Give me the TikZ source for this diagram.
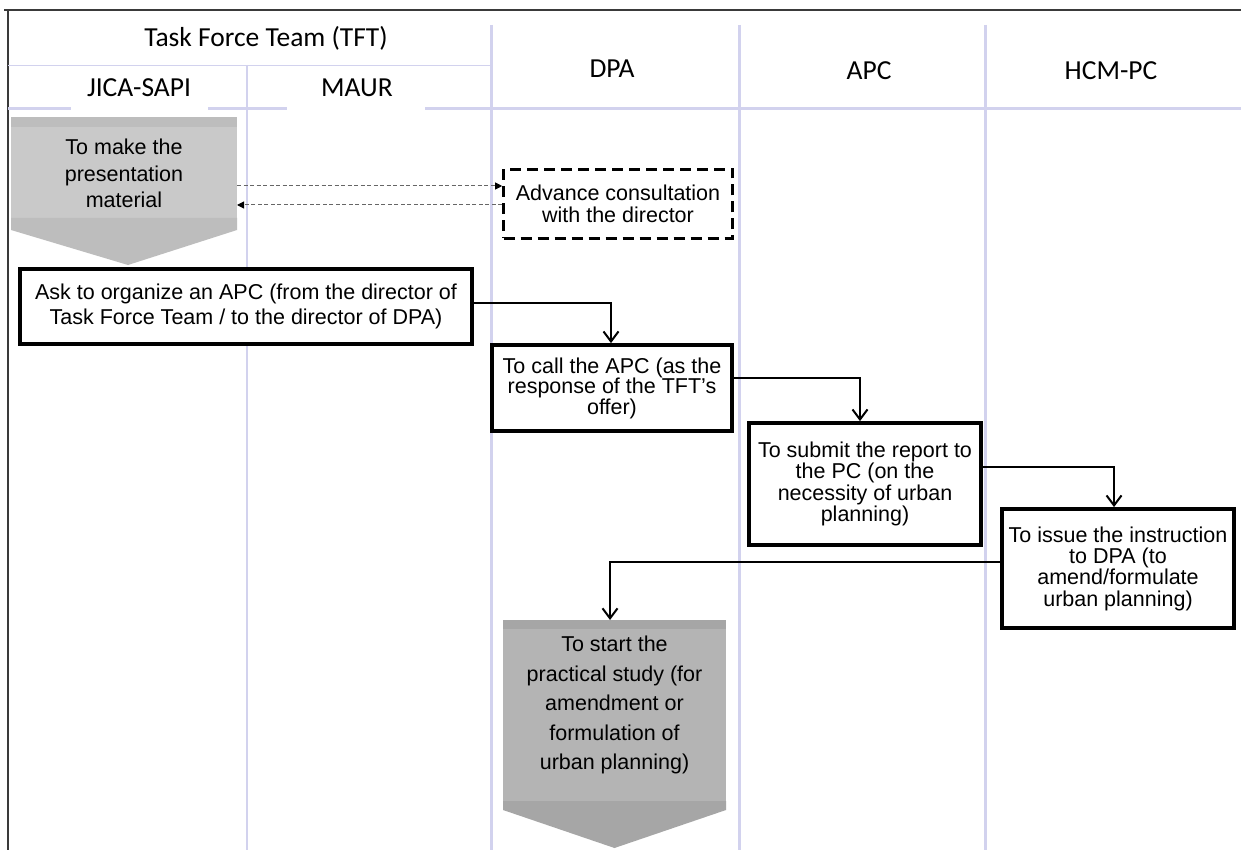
\documentclass[tikz,border=0pt]{standalone}
\usepackage{fontspec}
\setmainfont{Liberation Sans}
\newfontfamily\hdrfont{Carlito}
\usetikzlibrary{arrows.meta,calc}
\definecolor{lav}{HTML}{D2D2EE}
\definecolor{gA}{HTML}{C9C9C9}
\definecolor{gAb}{HTML}{BDBDBD}
\definecolor{gB}{HTML}{B4B4B4}
\definecolor{gBb}{HTML}{A6A6A6}
\definecolor{framecol}{HTML}{3A3A3A}
\begin{document}
\begin{tikzpicture}[x=1pt,y=-1pt,
  hdr/.style={font=\hdrfont\fontsize{27.5}{30}\selectfont, inner sep=0, anchor=base},
  lanethick/.style={draw=lav, line width=3pt},
  lanethin/.style={draw=lav, line width=1.2pt},
  procbox/.style={draw=black, line width=3.8pt, fill=white, align=center, inner sep=0,
    font=\fontsize{21.5}{#1}\selectfont},
  dashbox/.style={draw=black, line width=2.6pt, dash pattern=on 11pt off 6pt, fill=white,
    align=center, inner sep=0, font=\fontsize{21.5}{22}\selectfont},
  shapebox/.style={inner sep=0, outer sep=0},
  gtext/.style={align=center, inner sep=0, font=\fontsize{21.5}{#1}\selectfont},
  flow/.style={draw=black, line width=2pt, -{Straight Barb[length=10pt,width=15pt]}},
  dflow/.style={draw=black!60, line width=1pt, dash pattern=on 4pt off 2.5pt,
    -{Triangle[length=7pt,width=7pt,fill=black,color=black]}}
]
\useasboundingbox (0,0) rectangle (1241,850);
\fill[white] (0,0) rectangle (1241,850);

% ---- frame and lanes ----
\draw[framecol, line width=1.6pt] (4,10) -- (1241,10);
\draw[framecol, line width=2.4pt] (8,10) -- (8,850);
\draw[lanethin, line width=1.6pt] (8,65.5) -- (491,65.5);
\draw[lanethin] (247,65) -- (247,850);
\draw[lanethick] (491,25) -- (491,850);
\draw[lanethick] (739,25) -- (739,850);
\draw[lanethick] (985,25) -- (985,850);
\draw[lanethick] (8,108.5) -- (71,108.5);
\draw[lanethick] (208,108.5) -- (287,108.5);
\draw[lanethick] (425,108.5) -- (1241,108.5);

% ---- header labels ----
\node[hdr] (tft) at (266,47) {Task Force Team (TFT)};
\node[hdr] (jica) at (139,97) {JICA-SAPI};
\node[hdr] (maur) at (357,97) {MAUR};
\node[hdr] (dpa) at (612,78) {DPA};
\node[hdr] (apc) at (869,80) {APC};
\node[hdr] (hcm) at (1111,80) {HCM-PC};

% ---- gray arrow 1 ----
\node[shapebox, minimum width=226pt, minimum height=113pt] (a1) at (124,173.5) {};
\fill[gA] (a1.north west) -- (a1.north east) -- (a1.south east) -- (a1.south west) -- cycle;
\fill[gAb] (a1.north west) rectangle ($(a1.north east)+(0,10)$);
\fill[gAb] ($(a1.south west)+(0,-12)$) -- ($(a1.south east)+(0,-12)$) -- (a1.south east)
  -- ($(a1.south)+(4,35)$) -- (a1.south west) -- cycle;
\node[gtext=26.5] at (a1.center) {To make the\\presentation\\material};

% ---- dashed box ----
\node[dashbox, minimum width=229pt, minimum height=69pt] (db) at (618,204)
  {Advance consultation\\with the director};

\draw[dflow] ([yshift=-12.5pt]a1.east) -- ([yshift=-12.5pt]a1.east -| db.west);
\draw[dflow] ([yshift=-1pt]db.west) -- ([yshift=-1pt]db.west -| a1.east);

% ---- process boxes ----
\node[procbox=25, minimum width=452pt, minimum height=75pt] (b4) at (246,306.5)
  {Ask to organize an APC (from the director of\\Task Force Team / to the director of DPA)};
\node[procbox=20.5, minimum width=240pt, minimum height=86pt] (b6) at (612,388)
  {To call the APC (as the\\response of the TFT's\\offer)};
\node[procbox=21.3, minimum width=232pt, minimum height=122pt] (b7) at (865,484)
  {To submit the report to\\the PC (on the\\necessity of urban\\planning)};
\node[procbox=21.3, minimum width=232pt, minimum height=119pt] (b8) at (1118,568.5)
  {To issue the instruction\\to DPA (to\\amend/formulate\\urban planning)};

% ---- gray arrow 2 ----
\node[shapebox, minimum width=223pt, minimum height=190pt] (a2) at (614.5,715) {};
\fill[gB] (a2.north west) -- (a2.north east) -- (a2.south east) -- (a2.south west) -- cycle;
\fill[gBb] (a2.north west) rectangle ($(a2.north east)+(0,9)$);
\fill[gBb] ($(a2.south west)+(0,-9)$) -- ($(a2.south east)+(0,-9)$) -- (a2.south east)
  -- ($(a2.south)+(0,38)$) -- (a2.south west) -- cycle;
\node[gtext=29.5] (a2t) at ($(a2.center)+(0,-10)$)
  {To start the\\practical study (for\\amendment or\\formulation of\\urban planning)};

% ---- connectors ----
\draw[flow] ([yshift=3.5pt]b4.east) -| ([xshift=-1pt]b6.north);
\draw[flow] ([yshift=10pt]b6.east) -| ([xshift=-5pt]b7.north);
\draw[flow] ([yshift=17pt]b7.east) -| ([xshift=-4pt]b8.north);
\draw[flow] ([yshift=6.5pt]b8.west) -| ([xshift=-4.5pt]a2.north);
\end{tikzpicture}
\end{document}
